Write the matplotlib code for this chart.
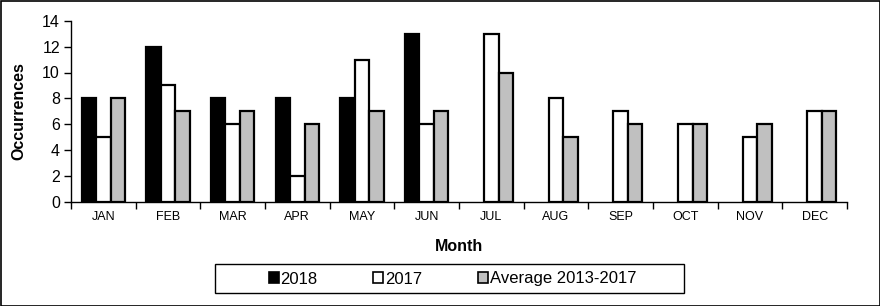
import numpy as np
import matplotlib
matplotlib.use("Agg")
import matplotlib.pyplot as plt
from matplotlib.patches import Rectangle

months = ["JAN", "FEB", "MAR", "APR", "MAY", "JUN", "JUL", "AUG", "SEP", "OCT", "NOV", "DEC"]
y2018 = [8, 12, 8, 8, 8, 13, np.nan, np.nan, np.nan, np.nan, np.nan, np.nan]
y2017 = [5, 9, 6, 2, 11, 6, 13, 8, 7, 6, 5, 7]
avg = [8, 7, 7, 6, 7, 7, 10, 5, 6, 6, 6, 7]
series_names = ["2018", "2017", "Average 2013-2017"]
colors = ["#000000", "#ffffff", "#c0c0c0"]

plt.rcParams['font.family'] = ['Liberation Sans', 'DejaVu Sans']

fig = plt.figure(figsize=(8.8, 3.06), dpi=100)
ax = fig.add_axes([71/880, 1-202/306, (847-71)/880, (202-20.7)/306])

x = np.arange(len(months))
w = 0.225
for i, (vals, c, name) in enumerate(zip([y2018, y2017, avg], colors, series_names)):
    ax.bar(x + (i-1)*w, vals, width=w, color=c, edgecolor='black', linewidth=1.6, label=name, zorder=3)

ax.set_xlim(-0.5, len(months)-0.5)
ax.set_ylim(0, 14)
ax.set_yticks(range(0, 15, 2))
ax.set_yticklabels([str(v) for v in range(0, 15, 2)], fontsize=11.5)
ax.set_xticks(x)
ax.set_xticklabels(months, fontsize=9)
ax.tick_params(axis='x', length=0, pad=6.5)
ax.set_xticks(np.arange(-0.5, len(months), 1), minor=True)
ax.tick_params(axis='x', which='minor', length=5, width=1, direction='out')
ax.tick_params(axis='y', length=5, width=1, direction='out', pad=3)
for s in ['top', 'right']:
    ax.spines[s].set_visible(False)
for s in ['left', 'bottom']:
    ax.spines[s].set_linewidth(1)

ax.set_ylabel("Occurrences", fontsize=11.5, fontweight='bold')
ax.yaxis.set_label_coords((26-71)/776, 0.5)
ax.set_xlabel("Month", fontsize=11.5, fontweight='bold')
ax.xaxis.set_label_coords(0.5, (202-239)/181.3)

# legend frame
fig.patches.append(Rectangle((215/880, 1-293/306), (684-215)/880, 29/306, transform=fig.transFigure,
                             fill=False, edgecolor='black', linewidth=1))
leg = fig.legend(loc='center', bbox_to_anchor=(452.5/880, 1-279/306), ncol=3,
                 frameon=False, fontsize=12,
                 handlelength=0.6, handleheight=0.6, handletextpad=0.1, columnspacing=3.35,
                 borderpad=0, borderaxespad=0)
for h in leg.legend_handles:
    h.set_linewidth(1.2)

fig.patches.append(Rectangle((0.5/880, 0.5/306), 1-1/880, 1-1/306, transform=fig.transFigure,
                             fill=False, edgecolor='black', linewidth=1.2))

fig.savefig("out.png", dpi=100)
